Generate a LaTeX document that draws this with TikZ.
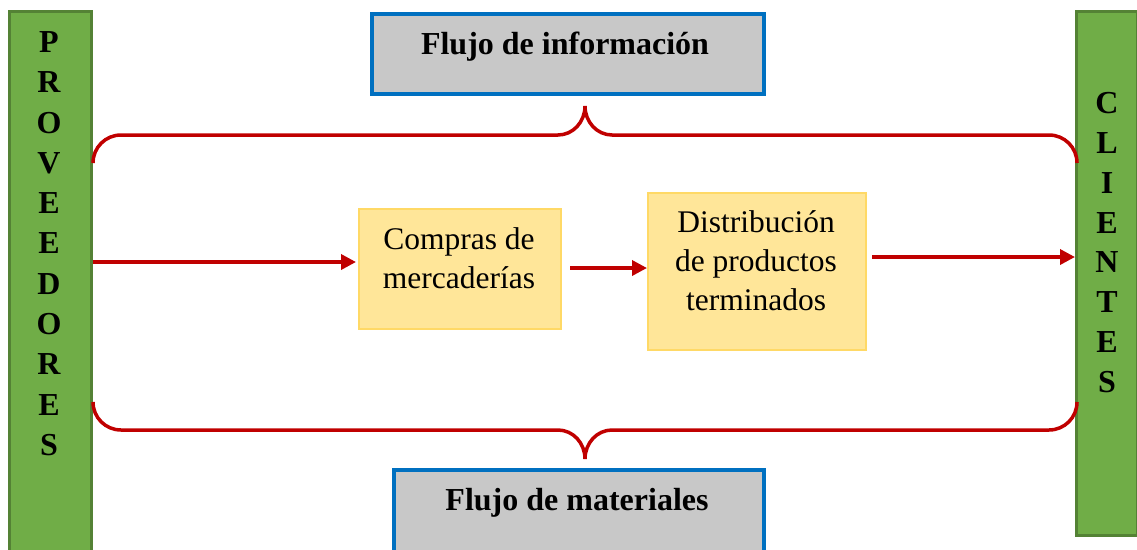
\documentclass[tikz,border=0pt]{standalone}
\usepackage{fontspec}
\setmainfont{Liberation Serif}
\usetikzlibrary{arrows.meta,calc}
\definecolor{gfill}{HTML}{70AD47}
\definecolor{gline}{HTML}{548235}
\definecolor{rline}{HTML}{C00000}
\definecolor{bline}{HTML}{0070C0}
\definecolor{gbox}{HTML}{C8C8C8}
\definecolor{yfill}{HTML}{FFE699}
\definecolor{yline}{HTML}{FFD966}
\tikzset{
  bar/.style={draw=gline, fill=gfill, line width=2.5pt, inner sep=0pt},
  letter/.style={font=\fontsize{32}{38}\selectfont\bfseries, inner sep=0pt},
  flowbox/.style={draw=bline, fill=gbox, line width=3.5pt, inner sep=0pt},
  flowtext/.style={font=\fontsize{32}{38}\selectfont\bfseries, inner sep=0pt},
  procbox/.style={draw=yline, fill=yfill, line width=1.5pt, inner sep=0pt},
  proctext/.style={font=\fontsize{31.5}{39}\selectfont, align=center, inner sep=0pt},
  flow/.style={draw=rline, line width=3.5pt, -{Triangle[length=15pt,width=15pt]}},
  brace/.style={draw=rline, line width=3.5pt}
}
\begin{document}
\begin{tikzpicture}[x=1pt,y=-1pt]
\useasboundingbox (0,0) rectangle (1137,549);
% side bars
\node[bar, minimum width=82pt, minimum height=560pt, anchor=north west] (prov) at (8,10) {};
\node[bar, minimum width=61pt, minimum height=524pt, anchor=north west] (cli) at (1075,10) {};
\foreach \l [count=\i] in {P,R,O,V,E,E,D,O,R,E,S}
  \node[letter] (pv\i) at (49,{42+40.3*(\i-1)}) {\l};
\foreach \l [count=\i] in {C,L,I,E,N,T,E,S}
  \node[letter] (cl\i) at (1107,{103+39.86*(\i-1)}) {\l};
% flow boxes
\node[flowbox, minimum width=392pt, minimum height=80pt, anchor=north west] (info) at (370,12) {};
\node[flowtext] (infot) at (565,47) {Flujo de información};
\node[flowbox, minimum width=370pt, minimum height=100pt, anchor=north west] (mat) at (392,468) {};
\node[flowtext] (matt) at (577,503) {Flujo de materiales};
% process boxes
\node[procbox, minimum width=202pt, minimum height=120pt, anchor=north west] (cmp) at (358,208) {};
\node[proctext] (cmpt) at (459,258) {Compras de\\mercaderías};
\node[procbox, minimum width=218pt, minimum height=157pt, anchor=north west] (dis) at (647,192) {};
\node[proctext] (dist) at (756,261) {Distribución\\de productos\\terminados};
% arrows
\coordinate (a1s) at (prov.east |- 0,262);
\coordinate (a1e) at (356,262);
\coordinate (a2s) at (570,268);
\coordinate (a2e) at (dis.west |- 0,268);
\coordinate (a3s) at (872,257);
\coordinate (a3e) at (cli.west |- 0,257);
\draw[flow] (a1s) -- (a1e);
\draw[flow] (a2s) -- (a2e);
\draw[flow] (a3s) -- (a3e);
% braces
\coordinate (tl) at (93,163);
\coordinate (tt) at (585,106);
\coordinate (tr) at (1077,163);
\draw[brace] (tl) .. controls (93,147.5) and (105.5,135) .. (121,135) -- (558,135)
  .. controls (573,135) and (585,122) .. (tt)
  .. controls (585,122) and (597,135) .. (612,135) -- (1049,135)
  .. controls (1064.5,135) and (1077,147.5) .. (tr);
\coordinate (bl) at (93,402);
\coordinate (bt) at (585,459);
\coordinate (br) at (1077,402);
\draw[brace] (bl) .. controls (93,417.5) and (105.5,430) .. (121,430) -- (558,430)
  .. controls (573,430) and (585,443) .. (bt)
  .. controls (585,443) and (597,430) .. (612,430) -- (1049,430)
  .. controls (1064.5,430) and (1077,417.5) .. (br);
\end{tikzpicture}
\end{document}
